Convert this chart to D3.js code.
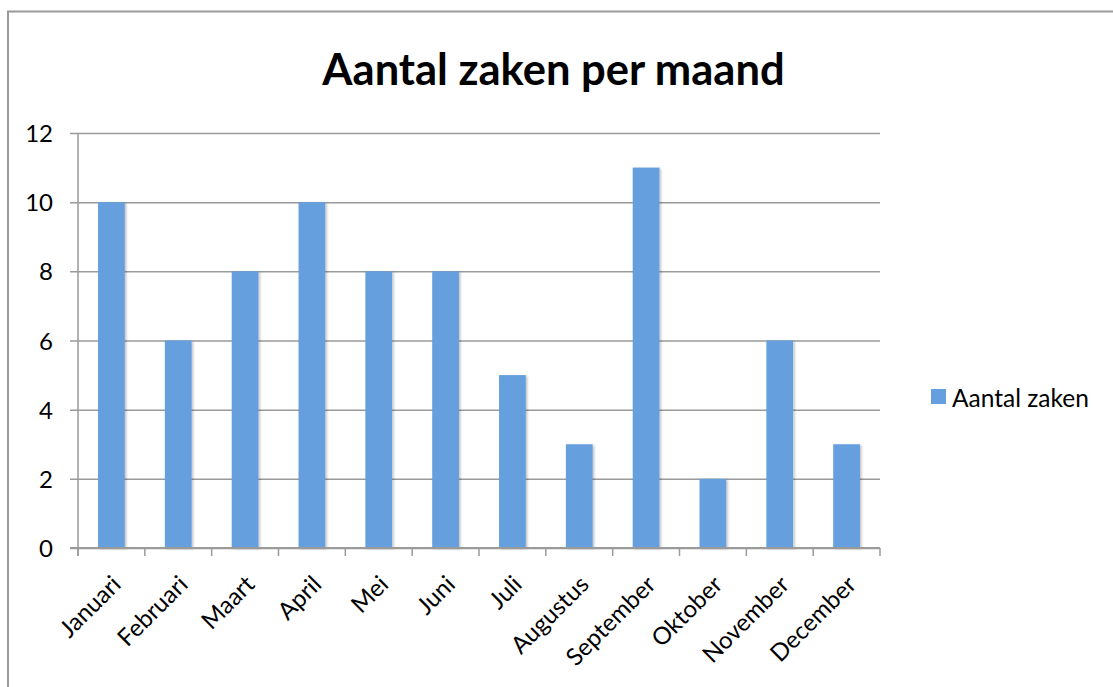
<!DOCTYPE html>
<html>
<head>
<meta charset="utf-8">
<script src="https://cdn.jsdelivr.net/npm/d3@7"></script>
<style>
  html, body { margin: 0; padding: 0; background: #fff; }
  svg { display: block; }
  text { font-family: Lato, "Open Sans", sans-serif; fill: #000; }
</style>
</head>
<body>
<svg id="chart" width="1113" height="687"></svg>
<script>
const title = "Aantal zaken per maand";
const seriesName = "Aantal zaken";
const months = ["Januari","Februari","Maart","April","Mei","Juni","Juli","Augustus","September","Oktober","November","December"];
const values = [10, 6, 8, 10, 8, 8, 5, 3, 11, 2, 6, 3];
const yTicks = [0, 2, 4, 6, 8, 10, 12];

const svg = d3.select("#chart");
const W = 1113, H = 687;
const plot = { left: 78, right: 880, top: 133, bottom: 548 };
const gridColor = "#9a9a9a";
const barColor = "#659fdd";

// Frame
svg.append("rect")
  .attr("x", 8).attr("y", 11.5)
  .attr("width", W + 20).attr("height", H + 20)
  .attr("fill", "none").attr("stroke", "#9a9a9a").attr("stroke-width", 2);

// Shadow filter
const defs = svg.append("defs");
const f = defs.append("filter").attr("id", "shadow").attr("x", "-20%").attr("y", "-5%").attr("width", "150%").attr("height", "115%");
f.append("feDropShadow").attr("dx", 1.5).attr("dy", 1).attr("stdDeviation", 1.2)
  .attr("flood-color", "#000").attr("flood-opacity", 0.25);

const x = d3.scaleBand().domain(months)
  .range([plot.left, plot.right])
  .paddingInner(0.6).paddingOuter(0.3);
const y = d3.scaleLinear().domain([0, 12]).range([plot.bottom, plot.top]);

// Gridlines + y axis
const yAxis = d3.axisLeft(y).tickValues(yTicks).tickSize(-(plot.right - plot.left)).tickPadding(25);
const gy = svg.append("g").attr("transform", `translate(${plot.left},0)`).call(yAxis);
gy.select(".domain").remove();
gy.selectAll(".tick line").attr("stroke", gridColor).attr("stroke-width", 1.5).attr("x1", -8);
gy.selectAll(".tick text").attr("font-size", 24).attr("font-family", "Lato").attr("fill", "#000").attr("dy", "0.36em");

// Y axis line
svg.append("line")
  .attr("x1", plot.left).attr("x2", plot.left)
  .attr("y1", plot.top).attr("y2", plot.bottom + 8)
  .attr("stroke", gridColor).attr("stroke-width", 1.5);

// Bars
svg.append("g").selectAll("rect").data(values).join("rect")
  .attr("x", (d, i) => x(months[i]))
  .attr("y", d => y(d))
  .attr("width", x.bandwidth())
  .attr("height", d => y(0) - y(d))
  .attr("fill", barColor)
  .attr("filter", "url(#shadow)");

// X axis with ticks between categories
const step = x.step();
const boundaries = d3.range(months.length + 1).map(i => plot.left + i * step);
const gx = svg.append("g");
gx.append("line")
  .attr("x1", plot.left - 8).attr("x2", plot.right)
  .attr("y1", plot.bottom).attr("y2", plot.bottom)
  .attr("stroke", gridColor).attr("stroke-width", 2);
gx.selectAll("line.tk").data(boundaries).join("line").attr("class", "tk")
  .attr("x1", d => d).attr("x2", d => d)
  .attr("y1", plot.bottom).attr("y2", plot.bottom + 8)
  .attr("stroke", gridColor).attr("stroke-width", 1.5);

gx.selectAll("text").data(months).join("text")
  .attr("transform", d => `translate(${x(d) + x.bandwidth() / 2 + 11},${plot.bottom + 38}) rotate(-45)`)
  .attr("text-anchor", "end")
  .attr("font-size", 24)
  .text(d => d);

// Title
svg.append("text")
  .attr("x", 553.5).attr("y", 85)
  .attr("text-anchor", "middle")
  .attr("font-size", 43.5)
  .attr("font-weight", "bold")
  .text(title);

// Legend
svg.append("rect").attr("x", 931).attr("y", 389).attr("width", 15).attr("height", 15).attr("fill", barColor);
svg.append("text").attr("x", 952).attr("y", 406.5).attr("font-size", 24.5).text(seriesName);
</script>
</body>
</html>
